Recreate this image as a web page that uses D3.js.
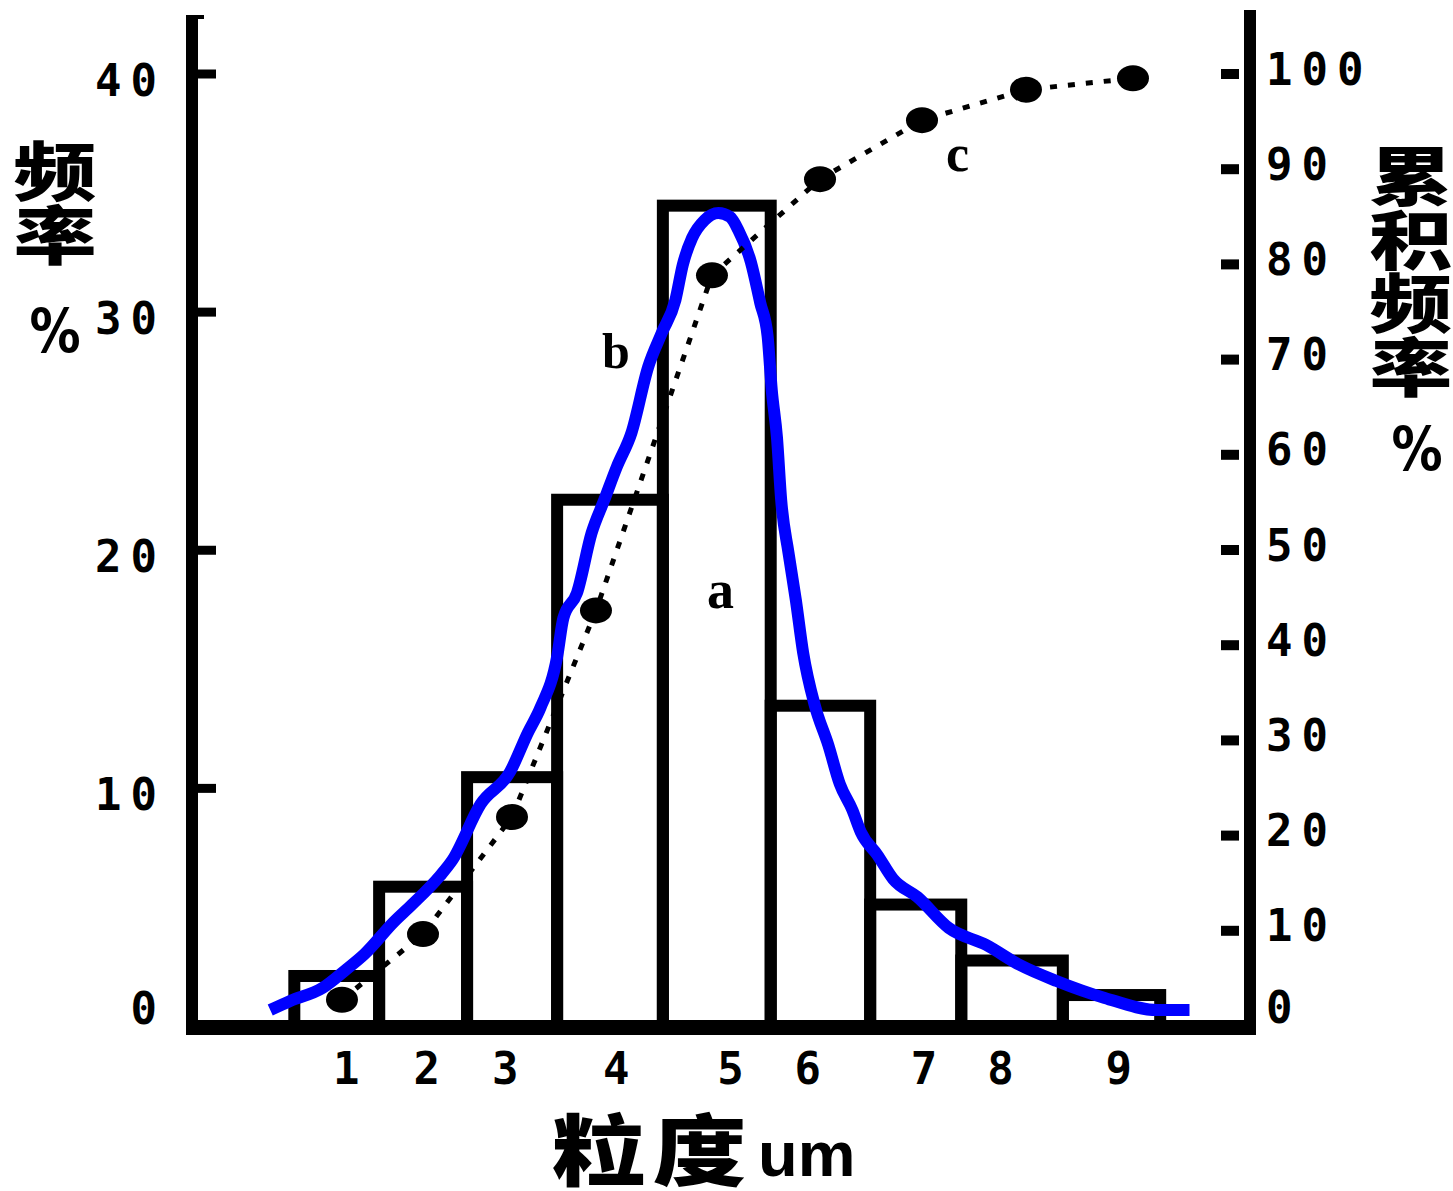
<!DOCTYPE html>
<html>
<head>
<meta charset="utf-8">
<script src="https://cdn.jsdelivr.net/npm/d3@7/dist/d3.min.js"></script>
<style>
    body { margin: 0; background: #fff; }
    svg { display: block; background: #fff; }
</style>
</head>
<body>
<div id="chart"></div>
<script>

// Histogram bins (edges on the size axis) and frequency per bin, %
var binEdges = [0.92, 1.73, 2.57, 3.43, 4.44, 5.47, 6.42, 7.29, 8.26, 9.19];
var freq = [2.1, 5.85, 10.45, 22.1, 34.45, 13.45, 5.1, 2.75, 1.3];

// Size axis tick labels (um) and where they sit on the axis
var sizeTicks = [1.41, 2.18, 2.93, 3.99, 5.08, 5.82, 6.93, 7.66, 8.79];
var sizeLabels = ['1', '2', '3', '4', '5', '6', '7', '8', '9'];

var leftTicks = [0, 10, 20, 30, 40];
var rightTicks = [0, 10, 20, 30, 40, 50, 60, 70, 80, 90, 100];

// Curve b: fitted frequency distribution (left axis)
var curveX = [0.69, 0.88, 1.19, 1.42, 1.59, 1.87, 2.04, 2.31, 2.43, 2.70,
    2.98, 3.15, 3.27, 3.43, 3.49, 3.62, 3.76, 3.88, 4.00, 4.14,
    4.30, 4.43, 4.56, 4.63, 4.72, 4.84, 4.97, 5.08, 5.16, 5.28,
    5.37, 5.44, 5.48, 5.53, 5.57, 5.64, 5.71, 5.78, 5.89, 6.02,
    6.13, 6.25, 6.33, 6.49, 6.64, 6.87, 7.17, 7.53, 7.85, 8.20,
    8.66, 9.16, 9.47];
var curveY = [0.67, 1.05, 1.60, 2.39, 3.02, 4.37, 5.08, 6.30, 6.97, 9.32,
    10.67, 12.31, 13.36, 15.50, 17.14, 18.19, 20.71, 22.09, 23.48, 24.91,
    27.68, 29.11, 30.49, 31.96, 33.10, 33.85, 34.14, 33.98, 33.43, 32.09,
    30.37, 28.98, 26.71, 24.70, 22.09, 19.87, 17.89, 15.67, 13.48, 11.80,
    10.16, 9.07, 8.15, 7.18, 6.17, 5.42, 4.12, 3.40, 2.56, 1.89,
    1.18, 0.67, 0.67];

// Curve c: cumulative frequency (right axis)
var cumX = [1.375, 2.149, 2.999, 3.801, 4.909, 5.941, 6.915, 7.908, 8.930];
var cumY = [2.7, 9.6, 21.9, 43.6, 78.8, 88.9, 95.1, 98.3, 99.5];

var width = 1453;
var height = 1191;

var svg = d3.select('#chart').append('svg')
    .attr('width', width)
    .attr('height', height);

var xScale = d3.scaleLinear()
    .domain([0, 10])
    .range([198, 1245]);

var yLeft = d3.scaleLinear()
    .domain([0, 40])
    .range([1026, 73.5]);

var yRight = d3.scaleLinear()
    .domain([0, 100])
    .range([1025.5, 73.5]);

var digitFont = "'DejaVu Sans Mono', monospace";
var cjkFont = "'Noto Sans CJK SC', sans-serif";

// Bars (outlined)
var bars = freq.map(function (v, i) {
    return {x0: binEdges[i], x1: binEdges[i + 1], v: v};
});

svg.append('g').attr('class', 'bars')
    .selectAll('rect')
    .data(bars).enter()
    .append('rect')
        .attr('x', function (d) { return xScale(d.x0); })
        .attr('y', function (d) { return yLeft(d.v); })
        .attr('width', function (d) { return xScale(d.x1) - xScale(d.x0); })
        .attr('height', function (d) { return yLeft(0) - yLeft(d.v); })
        .attr('fill', 'none')
        .attr('stroke', '#000')
        .attr('stroke-width', 12);

// Blue curve b
var curvePts = curveX.map(function (x, i) { return [x, curveY[i]]; });
var bLine = d3.line()
    .x(function (d) { return xScale(d[0]); })
    .y(function (d) { return yLeft(d[1]); })
    .curve(d3.curveMonotoneX);

svg.append('path')
    .datum(curvePts)
    .attr('fill', 'none')
    .attr('stroke', '#0000ff')
    .attr('stroke-width', 12)
    .attr('stroke-linejoin', 'round')
    .attr('d', bLine);

// Dotted cumulative curve c
var cumPts = cumX.map(function (x, i) { return [x, cumY[i]]; });
var cLine = d3.line()
    .x(function (d) { return xScale(d[0]); })
    .y(function (d) { return yRight(d[1]); });

svg.append('path')
    .datum(cumPts)
    .attr('fill', 'none')
    .attr('stroke', '#000')
    .attr('stroke-width', 5)
    .attr('stroke-dasharray', '7 11')
    .attr('d', cLine);

svg.append('g').selectAll('ellipse')
    .data(cumPts).enter()
    .append('ellipse')
        .attr('cx', function (d) { return xScale(d[0]); })
        .attr('cy', function (d) { return yRight(d[1]); })
        .attr('rx', 16)
        .attr('ry', 13)
        .attr('fill', '#000');

// Axis frame lines
var frame = svg.append('g').attr('stroke', '#000');
frame.append('line')
    .attr('x1', 192).attr('x2', 192)
    .attr('y1', 15).attr('y2', 1035)
    .attr('stroke-width', 12);
frame.append('line')
    .attr('x1', 192).attr('x2', 204)
    .attr('y1', 17).attr('y2', 17)
    .attr('stroke-width', 4);
frame.append('line')
    .attr('x1', 1250).attr('x2', 1250)
    .attr('y1', 10).attr('y2', 1035)
    .attr('stroke-width', 12);
frame.append('line')
    .attr('x1', 186).attr('x2', 1256)
    .attr('y1', 1027.5).attr('y2', 1027.5)
    .attr('stroke-width', 15);

// Left ticks point inwards
var leftAxis = svg.append('g')
    .attr('transform', 'translate(198,0)')
    .call(d3.axisRight(yLeft)
        .tickValues(leftTicks.filter(function (t) { return t > 0; }))
        .tickSize(18)
        .tickFormat(''));
leftAxis.select('.domain').remove();
leftAxis.selectAll('.tick line').attr('stroke', '#000').attr('stroke-width', 9);

// Right ticks are short dashes left of the axis
var rightAxis = svg.append('g')
    .attr('transform', 'translate(1239,0)')
    .call(d3.axisLeft(yRight)
        .tickValues(rightTicks.filter(function (t) { return t > 0; }))
        .tickSize(18)
        .tickFormat(''));
rightAxis.select('.domain').remove();
rightAxis.selectAll('.tick line').attr('stroke', '#000').attr('stroke-width', 10);

// Left tick labels
svg.append('g').selectAll('text')
    .data(leftTicks).enter()
    .append('text')
        .attr('x', 166)
        .attr('y', function (d) {
            var cy = Math.min(yLeft(d) + 6, yLeft(0) - 18);
            return cy + 16;
        })
        .attr('text-anchor', 'end')
        .style('font-family', digitFont)
        .style('font-weight', 'bold')
        .style('font-size', '44px')
        .style('letter-spacing', '9px')
        .text(function (d) { return d; });

// Right tick labels
svg.append('g').selectAll('text')
    .data(rightTicks).enter()
    .append('text')
        .attr('x', 1266)
        .attr('y', function (d) {
            var cy = Math.min(yRight(d) - 5, yRight(0) - 19);
            return cy + 16;
        })
        .attr('text-anchor', 'start')
        .style('font-family', digitFont)
        .style('font-weight', 'bold')
        .style('font-size', '44px')
        .style('letter-spacing', '9px')
        .text(function (d) { return d; });

// Size axis labels (no tick marks)
var xAxis = svg.append('g')
    .attr('transform', 'translate(0,1026)')
    .call(d3.axisBottom(xScale)
        .tickValues(sizeTicks)
        .tickSize(0)
        .tickFormat(function (d, i) { return sizeLabels[i]; }));
xAxis.select('.domain').remove();
xAxis.selectAll('text')
    .attr('y', 58)
    .attr('dy', 0)
    .attr('fill', '#000')
    .style('font-family', digitFont)
    .style('font-weight', 'bold')
    .style('font-size', '44px');

// Vertical CJK titles, one text element each, stretched sideways
function verticalTitle(txt, cx, top, size, sx) {
    svg.append('text')
        .attr('transform', 'translate(' + cx + ',' + top + ') scale(' + sx + ',1)')
        .attr('x', 0)
        .attr('y', 0)
        .style('writing-mode', 'vertical-rl')
        .style('text-orientation', 'upright')
        .style('font-family', cjkFont)
        .style('font-weight', 900)
        .style('font-size', size + 'px')
        .text(txt);
}

verticalTitle('频率', 55, 139, 64, 1.3);
verticalTitle('累积频率', 1411, 144, 63.7, 1.3);

function percentSign(cx, cy) {
    svg.append('text')
        .attr('transform', 'translate(' + cx + ',' + cy + ') scale(0.85,1)')
        .attr('text-anchor', 'middle')
        .attr('dominant-baseline', 'central')
        .style('font-family', "'DejaVu Sans', sans-serif")
        .style('font-weight', 'bold')
        .style('font-size', '60px')
        .text('%');
}
percentSign(55, 331);
percentSign(1417, 449);

// X title
svg.append('text')
    .attr('transform', 'translate(552,1146) scale(1.2,1)')
    .attr('dominant-baseline', 'central')
    .style('font-family', cjkFont)
    .style('font-weight', 900)
    .style('font-size', '78px')
    .style('letter-spacing', '6px')
    .text('粒度');
svg.append('text')
    .attr('transform', 'translate(758,1176) scale(1.12,1.1)')
    .style('font-family', "'Liberation Sans', sans-serif")
    .style('font-weight', 'bold')
    .style('font-size', '58px')
    .text('um');

// Curve annotations
function note(txt, x, y, size) {
    svg.append('text')
        .attr('x', x)
        .attr('y', y)
        .style('font-family', "'Liberation Serif', serif")
        .style('font-weight', 'bold')
        .style('font-size', size + 'px')
        .text(txt);
}
note('b', 602, 368, 50);
note('a', 707, 608, 54);
note('c', 946, 171, 52);

</script>
</body>
</html>
